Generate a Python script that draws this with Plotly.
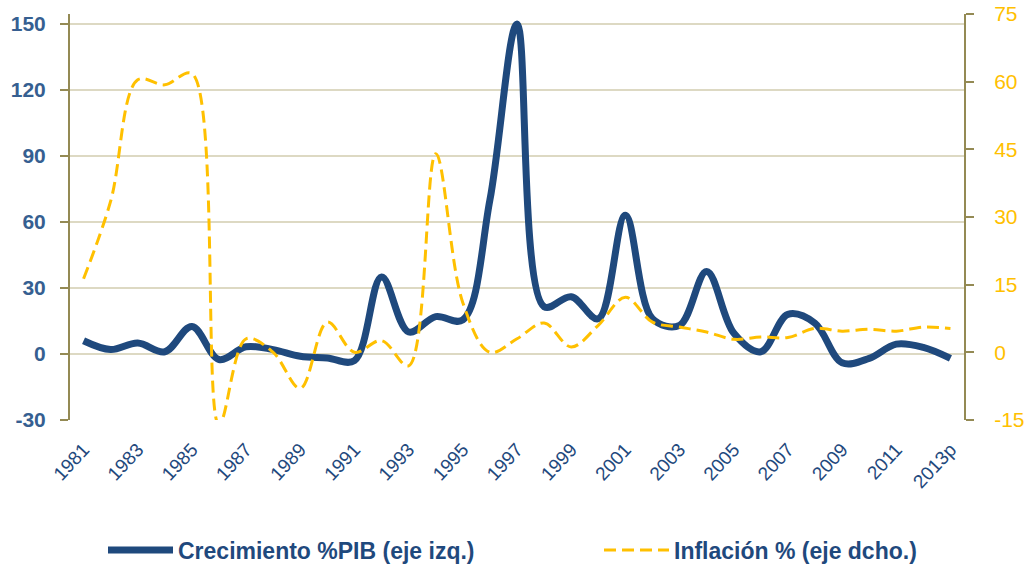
import plotly.graph_objects as go

years = ["1981", "1982", "1983", "1984", "1985", "1986", "1987", "1988", "1989", "1990",
         "1991", "1992", "1993", "1994", "1995", "1996", "1997", "1998", "1999", "2000",
         "2001", "2002", "2003", "2004", "2005", "2006", "2007", "2008", "2009", "2010",
         "2011", "2012", "2013p"]

gdp_growth = [6, 2, 5, 1, 12.5, -2.5, 3.3, 2, -1, -1.8,
              -3, 35, 10, 17, 15.5, 70, 150, 21.5, 26, 16,
              63, 16, 13, 37.5, 9.5, 1, 18, 14, -4, -2,
              4.5, 3, -2]

inflation = [16.3, 33.5, 60.4, 59.3, 61.8, -16, 3, 0, -8, 6.7,
             0, 2.6, -3, 44, 11, 0, 3, 6.5, 1.2, 6,
             12.2, 6.7, 5.6, 4.5, 2.9, 3.4, 3.3, 5.3, 4.7, 5.1,
             4.7, 5.6, 5.3]

left_ticks = [-30, 0, 30, 60, 90, 120, 150]
right_ticks = [-15, 0, 15, 30, 45, 60, 75]
label_years = years[::2]

NAVY = "#1F497D"
GOLD = "#FFC000"
AXIS = "#948A54"
GRID = "#DDD9C3"
FONT = "Liberation Sans, Arial, sans-serif"

fig = go.Figure()
fig.add_trace(go.Scatter(
    x=years, y=gdp_growth, name="Crecimiento %PIB (eje izq.)",
    mode="lines", line=dict(color=NAVY, width=7, shape="spline", smoothing=1),
    yaxis="y", xaxis="x", legend="legend"))
fig.add_trace(go.Scatter(
    x=years, y=inflation, name="Inflación % (eje dcho.)",
    mode="lines", line=dict(color=GOLD, width=3, dash="12px,6px", shape="spline", smoothing=1),
    yaxis="y2", xaxis="x", legend="legend2"))

n = len(years)
legend_common = dict(orientation="h", xref="container", yref="container",
                     xanchor="left", y=(564 - 550) / 564, yanchor="middle",
                     font=dict(family=FONT, size=23, color=NAVY, weight="bold"),
                     itemwidth=65, bgcolor="rgba(0,0,0,0)")
fig.update_layout(
    width=1027, height=564,
    margin=dict(l=70, r=63, t=14, b=144, autoexpand=False),
    paper_bgcolor="white", plot_bgcolor="white",
    font=dict(family=FONT),
    showlegend=True,
    legend=dict(x=103 / 1027, **legend_common),
    legend2=dict(x=599 / 1027, **legend_common),
    xaxis=dict(type="category", range=[-0.5, n - 0.5],
               tickmode="array", tickvals=label_years, ticktext=label_years,
               tickangle=-47, tickfont=dict(family=FONT, size=19, color=NAVY),
               ticks="outside", ticklen=10, tickcolor="rgba(0,0,0,0)",
               showline=False, showgrid=False, zeroline=False, automargin=False),
    xaxis2=dict(overlaying="x", anchor="free", position=30 / 184.5,
                type="linear", range=[-0.5, n - 0.5],
                tickmode="array", tickvals=[i + 0.5 for i in range(n - 1)],
                showticklabels=False, ticks="outside", ticklen=8, tickwidth=2,
                tickcolor=AXIS, showline=True, linecolor=AXIS, linewidth=2,
                showgrid=False, zeroline=False),
    yaxis=dict(range=[-30, 154.5], tickmode="array", tickvals=left_ticks,
               ticktext=[str(v) for v in left_ticks],
               showgrid=True, gridcolor=GRID, gridwidth=2, zeroline=False,
               showline=True, linecolor=AXIS, linewidth=2,
               ticks="outside", ticklen=8, tickwidth=2, tickcolor=AXIS,
               ticklabelstandoff=10, automargin=False,
               tickfont=dict(family=FONT, size=21, color="#365F91", weight="bold")),
    yaxis2=dict(overlaying="y", side="right", anchor="x",
                range=[-15, 75], tickmode="array", tickvals=right_ticks,
                ticktext=[str(v) for v in right_ticks],
                showgrid=False, zeroline=False,
                showline=True, linecolor=AXIS, linewidth=2,
                ticks="outside", ticklen=8, tickwidth=2, tickcolor=AXIS,
                ticklabelstandoff=16, automargin=False,
                tickfont=dict(family=FONT, size=21, color=GOLD)),
)

fig.write_html("out.html", config={"displayModeBar": False},
               post_script="document.body.style.margin='0';document.body.style.overflow='hidden';")
